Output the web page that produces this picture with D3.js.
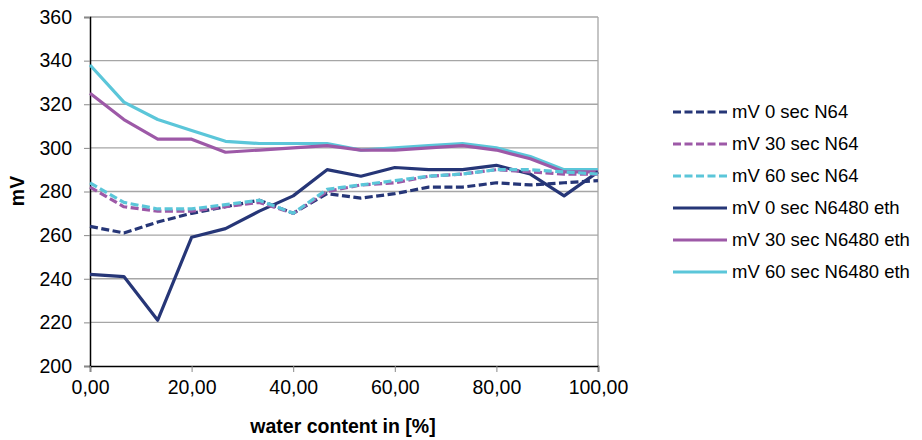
<!DOCTYPE html>
<html>
<head>
<meta charset="utf-8">
<script src="https://cdn.jsdelivr.net/npm/d3@7"></script>
<style>
  html, body { margin: 0; padding: 0; background: #fff; }
  svg { display: block; font-family: Arial, "Liberation Sans", sans-serif; }
</style>
</head>
<body>
<svg id="chart" width="922" height="440"></svg>
<script>
// ---- data ----
const waterContent = [0, 6.67, 13.33, 20, 26.67, 33.33, 40, 46.67, 53.33, 60, 66.67, 73.33, 80, 86.67, 93.33, 100];
const seriesNames = ["mV 0 sec N64", "mV 30 sec N64", "mV 60 sec N64",
                     "mV 0 sec N6480 eth", "mV 30 sec N6480 eth", "mV 60 sec N6480 eth"];
const mv0N64      = [264, 261, 266, 270, 273, 276, 270, 279, 277, 279, 282, 282, 284, 283, 284, 285];
const mv30N64     = [282, 273, 271, 271, 273, 275, 270, 280, 283, 284, 287, 288, 290, 289, 288, 288];
const mv60N64     = [284, 275, 272, 272, 274, 276, 270, 281, 283, 285, 287, 288, 290, 290, 289, 288];
const mv0N6480    = [242, 241, 221, 259, 263, 271, 278, 290, 287, 291, 290, 290, 292, 288, 278, 289];
const mv30N6480   = [325, 313, 304, 304, 298, 299, 300, 301, 299, 299, 300, 301, 299, 295, 289, 289];
const mv60N6480   = [338, 321, 313, 308, 303, 302, 302, 302, 299, 300, 301, 302, 300, 296, 290, 290];
const yTicks = [200, 220, 240, 260, 280, 300, 320, 340, 360];
const xTicks = [0, 20, 40, 60, 80, 100];
const xTickLabels = ["0,00", "20,00", "40,00", "60,00", "80,00", "100,00"];

const navy = "#263677", purple = "#9d59a7", cyan = "#5bc6d9";
const series = [
  { name: seriesNames[0], values: mv0N64,    color: navy,   dashed: true },
  { name: seriesNames[1], values: mv30N64,   color: purple, dashed: true },
  { name: seriesNames[2], values: mv60N64,   color: cyan,   dashed: true },
  { name: seriesNames[3], values: mv0N6480,  color: navy,   dashed: false },
  { name: seriesNames[4], values: mv30N6480, color: purple, dashed: false },
  { name: seriesNames[5], values: mv60N6480, color: cyan,   dashed: false }
];

// ---- layout ----
const svg = d3.select("#chart");
const pLeft = 90, pRight = 598, pTop = 17, pBottom = 366;
const x = d3.scaleLinear().domain([0, 100]).range([pLeft, pRight]);
const y = d3.scaleLinear().domain([200, 360]).range([pBottom, pTop]);

// gridlines
svg.append("g").selectAll("line").data(yTicks.filter(d => d > 200)).join("line")
  .attr("x1", pLeft).attr("x2", pRight)
  .attr("y1", d => y(d)).attr("y2", d => y(d))
  .attr("stroke", "#a6a6a6").attr("stroke-width", 1.3);
// right border
svg.append("line").attr("x1", pRight).attr("x2", pRight).attr("y1", pTop).attr("y2", pBottom)
  .attr("stroke", "#a6a6a6").attr("stroke-width", 1.3);

// axes
const yAxis = d3.axisLeft(y).tickValues(yTicks).tickSize(6).tickPadding(12).tickFormat(d3.format("d"));
const gy = svg.append("g").attr("transform", `translate(${pLeft},0)`).call(yAxis);
gy.select(".domain").attr("stroke", "#000").attr("stroke-width", 1.5);
gy.selectAll(".tick line").attr("stroke", "#888");
gy.selectAll("text").attr("font-size", 19.5).attr("fill", "#000")
  .attr("font-family", "Arial, 'Liberation Sans', sans-serif");

const xAxis = d3.axisBottom(x).tickValues(xTicks).tickSize(6).tickPadding(8)
  .tickFormat((d, i) => xTickLabels[i]);
const gx = svg.append("g").attr("transform", `translate(0,${pBottom})`).call(xAxis);
gx.select(".domain").attr("stroke", "#000").attr("stroke-width", 1.5);
gx.selectAll(".tick line").attr("stroke", "#888");
gx.selectAll("text").attr("font-size", 19.5).attr("fill", "#000")
  .attr("font-family", "Arial, 'Liberation Sans', sans-serif");

// axis titles
svg.append("text").attr("x", 343).attr("y", 433).attr("text-anchor", "middle")
  .attr("font-size", 19.5).attr("font-weight", "bold").text("water content in [%]");
svg.append("text").attr("transform", "translate(24,191) rotate(-90)").attr("text-anchor", "middle")
  .attr("font-size", 19.5).attr("font-weight", "bold").text("mV");

// lines
const line = d3.line().x((d, i) => x(waterContent[i])).y(d => y(d));
const drawOrder = [5, 4, 3, 0, 1, 2];
svg.append("g").selectAll("path").data(drawOrder.map(i => series[i])).join("path")
  .attr("d", d => line(d.values))
  .attr("fill", "none")
  .attr("stroke", d => d.color)
  .attr("stroke-width", 3.2)
  .attr("stroke-linejoin", "round")
  .attr("stroke-dasharray", d => d.dashed ? "8,3.5" : null);

// legend
const legend = svg.append("g");
const lg = legend.selectAll("g").data(series).join("g")
  .attr("transform", (d, i) => `translate(0,${112 + i * 32})`);
lg.append("line").attr("x1", 673).attr("x2", 727).attr("y1", 0).attr("y2", 0)
  .attr("stroke", d => d.color).attr("stroke-width", 3.2)
  .attr("stroke-dasharray", d => d.dashed ? "8,3.5" : null);
lg.append("text").attr("x", 732).attr("y", 0).attr("dy", "0.35em")
  .attr("font-size", 18.5).attr("fill", "#000").text(d => d.name);
</script>
</body>
</html>
